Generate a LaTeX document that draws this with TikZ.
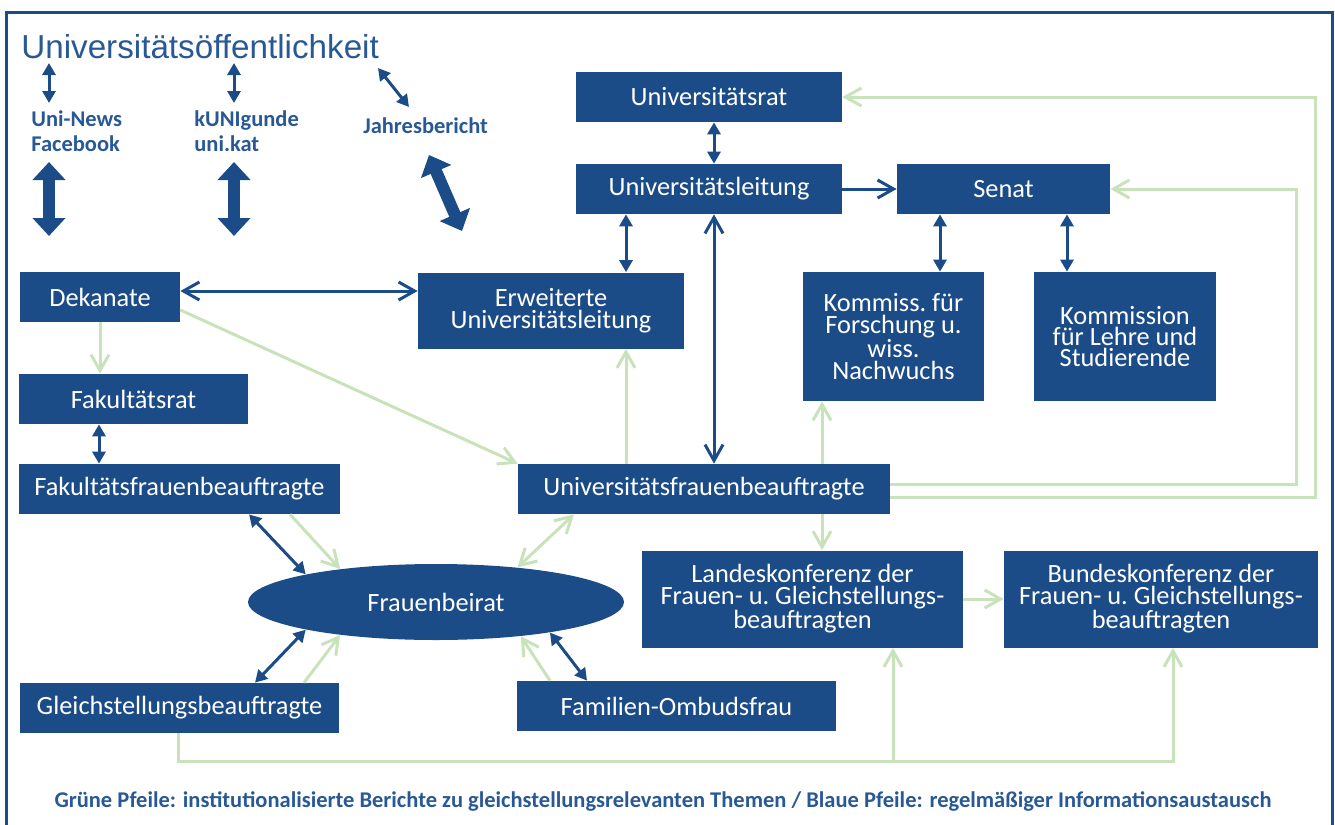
\documentclass[tikz,border=0pt]{standalone}
\usepackage{fontspec}
\setmainfont{Carlito}
\newfontfamily\arialfont{Liberation Sans}
\usetikzlibrary{arrows.meta,shapes.geometric}
\definecolor{uniblue}{RGB}{27,76,135}
\definecolor{txtblue}{RGB}{40,88,150}
\definecolor{repgreen}{RGB}{200,226,185}

\begin{document}
\begin{tikzpicture}[x=0.2mm,y=-0.2mm,
	box/.style={fill=uniblue,text=white,inner sep=0pt,align=center,font=\fontsize{15}{12.2}\selectfont},
	toplabel/.style={anchor=north west,inner sep=0pt,align=left,text=txtblue,font=\bfseries\fontsize{12.8}{14.2}\selectfont},
	bline/.style={draw=uniblue,line width=0.6mm,>={Straight Barb[length=3.2mm,width=3.6mm]}},
	btri/.style={draw=uniblue,line width=0.6mm,>={Triangle[length=2.4mm,width=2.6mm]}},
	gline/.style={draw=repgreen,line width=0.6mm,>={Straight Barb[length=3.2mm,width=3.6mm]}},
	fatarrow/.style={draw=uniblue,line width=2.4mm,>={Triangle[length=3.6mm,width=6.4mm]},<->}]

	\useasboundingbox (0,0) rectangle (1335,825);
	\draw[uniblue,line width=0.6mm] (6,825) -- (6,12) -- (1332,12) -- (1332,825);

	% Oeffentlichkeit
	\node[anchor=base west,inner sep=0pt,text=txtblue,font=\arialfont\fontsize{18.9}{22}\selectfont] (title) at (21,58) {Universitätsöffentlichkeit};
	\node[toplabel] (news) at (31,110) {Uni-News\\Facebook};
	\node[toplabel] (kuni) at (194,110) {kUNIgunde\\uni.kat};
	\node[toplabel] (jahr) at (363,117) {Jahresbericht};

	\coordinate (s1a) at (49,63);   \coordinate (s1b) at (49,103);
	\coordinate (s2a) at (234,63);  \coordinate (s2b) at (234,103);
	\coordinate (s3a) at (378,68);  \coordinate (s3b) at (409,107);
	\draw[btri,<->] (s1a) -- (s1b);
	\draw[btri,<->] (s2a) -- (s2b);
	\draw[btri,<->] (s3a) -- (s3b);

	\coordinate (f1a) at (49,162);  \coordinate (f1b) at (49,236);
	\coordinate (f2a) at (234,162); \coordinate (f2b) at (234,236);
	\coordinate (f3a) at (429,155); \coordinate (f3b) at (462,231);
	\draw[fatarrow] (f1a) -- (f1b);
	\draw[fatarrow] (f2a) -- (f2b);
	\draw[fatarrow] (f3a) -- (f3b);

	% Gremien
	\node[box,minimum width=53.2mm,minimum height=10mm] (rat) at (709,97) {Universitätsrat};
	\node[box,minimum width=53.2mm,minimum height=10mm] (leitung) at (709,189) {Universitätsleitung};
	\node[box,minimum width=42.6mm,minimum height=10mm] (senat) at (1003.5,189) {Senat};
	\node[box,minimum width=36.2mm,minimum height=25.8mm] (kfor) at (893.5,336.5) {Kommiss.\ für\\Forschung u.\\wiss.\\Nachwuchs};
	\node[box,minimum width=36.4mm,minimum height=25.8mm] (klehre) at (1125,336.5) {Kommission\\für Lehre und\\Studierende};
	\node[box,minimum width=53.2mm,minimum height=15.2mm] (erw) at (551,310.5) {Erweiterte\\Universitätsleitung};
	\node[box,minimum width=32mm,minimum height=10mm] (dek) at (100,297) {Dekanate};
	\node[box,minimum width=45.8mm,minimum height=10mm] (frat) at (133.5,399) {Fakultätsrat};
	\node[box,minimum width=64.2mm,minimum height=10mm] (ffb) at (179.5,489) {Fakultätsfrauenbeauftragte};
	\node[box,minimum width=74.4mm,minimum height=10mm] (ufb) at (704,489) {Universitätsfrauenbeauftragte};
	\node[box,ellipse,minimum width=75.2mm,minimum height=15.2mm] (beirat) at (436,602) {Frauenbeirat};
	\node[box,minimum width=63.8mm,minimum height=10mm] (gleich) at (179.5,708) {Gleichstellungsbeauftragte};
	\node[box,minimum width=63.8mm,minimum height=10mm] (fam) at (676.5,706) {Familien-Ombudsfrau};
	\node[box,minimum width=64.2mm,minimum height=19.4mm] (landes) at (802.5,599) {Landeskonferenz der\\Frauen- u.\ Gleichstellungs-\\beauftragten};
	\node[box,minimum width=62.8mm,minimum height=19.4mm] (bundes) at (1161,599) {Bundeskonferenz der\\Frauen- u.\ Gleichstellungs-\\beauftragten};

	% blaue Pfeile
	\draw[btri,<->] (rat.south -| 714,0) -- (leitung.north -| 714,0);
	\draw[btri,<->] (leitung.south -| 626,0) -- (erw.north -| 626,0);
	\draw[bline,<->] (leitung.south -| 714,0) -- (ufb.north -| 714,0);
	\draw[bline,->] (leitung) -- (senat);
	\draw[bline,<->] (dek.east |- 0,291) -- (erw.west |- 0,291);
	\draw[btri,<->] (senat.south -| 940,0) -- (kfor.north -| 940,0);
	\draw[btri,<->] (senat.south -| 1067,0) -- (klehre.north -| 1067,0);
	\draw[btri,<->] (frat.south -| 99,0) -- (ffb.north -| 99,0);
	\draw[btri,<->] (ffb.south -| 249,0) -- (beirat.168);
	\draw[btri,<->] (gleich.north -| 255,0) -- (beirat.192);
	\draw[btri,<->] (fam.north -| 587,0) -- (beirat.345);

	% gruene Pfeile
	\draw[gline,->] (dek.south) -- (frat.north -| dek.south);
	\draw[gline,->] (dek.east |- 0,310) -- (ufb.north west);
	\draw[gline,->] (ufb.north -| 626,0) -- (erw.south -| 626,0);
	\draw[gline,->] (ufb.north -| 822,0) -- (kfor.south -| 822,0);
	\draw[gline,->] (ufb.south -| 822,0) -- (landes.north -| 822,0);
	\draw[gline,->] (landes) -- (bundes);
	\draw[gline,->] (ufb.east |- 0,484) -- (1296,484) |- (senat.east);
	\draw[gline,->] (ufb.east |- 0,497) -- (1315,497) |- (rat.east);
	\draw[gline,->] (ffb.south -| 290,0) -- (beirat.161);
	\draw[gline,<->] (ufb.south -| 574,0) -- (beirat.23);
	\draw[gline,->] (gleich.north -| 304,0) -- (beirat.199);
	\draw[gline,->] (fam.north -| 550,0) -- (beirat.338);
	\draw[gline,->] (gleich.south -| 178,0) |- (893,761) -- (landes.south -| 893,0);
	\draw[gline,->] (893,761) -| (bundes.south -| 1173,0);

	\node[anchor=base,inner sep=0pt,text=txtblue,font=\bfseries\fontsize{12.8}{14}\selectfont] (legende) at (663,807) {Grüne Pfeile: institutionalisierte Berichte zu gleichstellungsrelevanten Themen / Blaue Pfeile: regelmäßiger Informationsaustausch};

\end{tikzpicture}
\end{document}
